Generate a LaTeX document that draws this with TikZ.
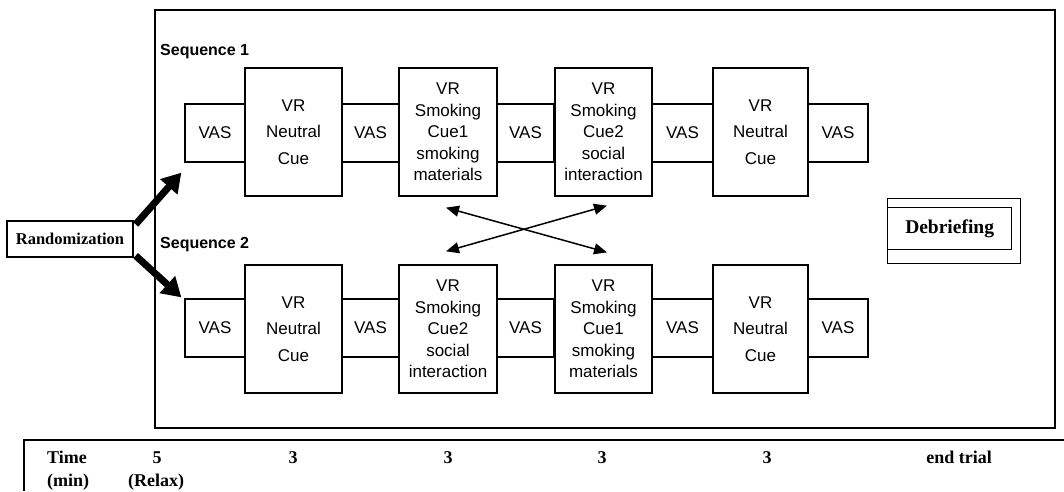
\documentclass[tikz,border=0pt]{standalone}
\usepackage{fontspec}
\setmainfont{Liberation Serif}
\setsansfont{Liberation Sans}
\usetikzlibrary{arrows.meta,calc}

\begin{document}
\begin{tikzpicture}[x=1pt,y=1pt,
  box/.style={draw,line width=1.3pt,inner sep=0pt,align=center,
              font=\sffamily\fontsize{17}{21.5}\selectfont},
  vas/.style={box,minimum height=58pt},
  vr/.style={box,minimum height=128pt,minimum width=97pt},
  neutral/.style={vr,font=\sffamily\fontsize{17}{26.5}\selectfont},
  seqlabel/.style={anchor=west,inner sep=0pt,font=\sffamily\bfseries\fontsize{16}{19}\selectfont},
  bigarrow/.style={line width=7pt,-{Triangle[length=19pt,width=22pt]}},
  swaparrow/.style={line width=1.5pt,{Triangle[length=13pt,width=11pt]}-{Triangle[length=13pt,width=11pt]}},
  tabtext/.style={inner sep=0pt,anchor=base,font=\bfseries\fontsize{18}{21}\selectfont},
]
\useasboundingbox (0,0) rectangle (1064,491);

% outer frame holding both sequences
\node[draw,line width=2pt,minimum width=900pt,minimum height=418pt,inner sep=0pt] (frame) at (605,272) {};

% sequence 1
\node[seqlabel] (seq1) at (160,439) {Sequence 1};
\node[vas,minimum width=60pt] (a1) at (215,358) {VAS};
\node[neutral] (a2) at (293.5,359) {VR\\Neutral\\Cue};
\node[vas,minimum width=57pt] (a3) at (370.5,358) {VAS};
\node[vr,minimum width=98pt] (a4) at (448,359) {VR\\Smoking\\Cue1\\smoking\\materials};
\node[vas,minimum width=57pt] (a5) at (525.5,358) {VAS};
\node[vr] (a6) at (603.5,359) {VR\\Smoking\\Cue2\\social\\interaction};
\node[vas,minimum width=61pt] (a7) at (682.5,358) {VAS};
\node[neutral,minimum width=95pt] (a8) at (760.5,359) {VR\\Neutral\\Cue};
\node[vas,minimum width=60pt] (a9) at (838,358) {VAS};

% sequence 2
\node[seqlabel] (seq2) at (160,246) {Sequence 2};
\node[vas,minimum width=60pt] (b1) at (215,163) {VAS};
\node[neutral] (b2) at (293.5,162) {VR\\Neutral\\Cue};
\node[vas,minimum width=57pt] (b3) at (370.5,163) {VAS};
\node[vr,minimum width=98pt] (b4) at (448,162) {VR\\Smoking\\Cue2\\social\\interaction};
\node[vas,minimum width=57pt] (b5) at (525.5,163) {VAS};
\node[vr] (b6) at (603.5,162) {VR\\Smoking\\Cue1\\smoking\\materials};
\node[vas,minimum width=61pt] (b7) at (682.5,163) {VAS};
\node[neutral,minimum width=95pt] (b8) at (760.5,162) {VR\\Neutral\\Cue};
\node[vas,minimum width=60pt] (b9) at (838,163) {VAS};

% randomization
\node[draw,line width=1.3pt,minimum width=126pt,minimum height=36pt,inner sep=0pt,
      font=\bfseries\fontsize{16.5}{19}\selectfont] (rand) at (70,252) {Randomization};
\coordinate (up0) at ($(rand.north east)+(2,-4)$);
\coordinate (up1) at ($(a1.south west)+(-3,-10)$);
\coordinate (dn0) at ($(rand.south east)+(2,2)$);
\coordinate (dn1) at ($(b1.north west)+(-3,1)$);
\draw[bigarrow] (up0) -- (up1);
\draw[bigarrow] (dn0) -- (dn1);

% the two cue orders swap between sequences
\coordinate (tl) at ($(a4.south)+(-2,-11)$);
\coordinate (tr) at ($(a6.south)+(3.5,-9)$);
\coordinate (bl) at ($(b4.north)+(-2,13)$);
\coordinate (br) at ($(b6.north)+(3.5,12)$);
\draw[swaparrow] (tl) -- (br);
\draw[swaparrow] (bl) -- (tr);

% debriefing
\node[draw,line width=1.3pt,minimum width=133pt,minimum height=65pt,inner sep=0pt,anchor=north west] (debout) at (887,293) {};
\node[draw,line width=1.3pt,minimum width=124pt,minimum height=42pt,inner sep=0pt,anchor=north west,
      font=\bfseries\fontsize{19.5}{22}\selectfont] (deb) at (887,284) {Debriefing};

% time line
\coordinate (tabR) at (1064,51);
\coordinate (tabC) at (24,51);
\coordinate (tabB) at (24,0);
\draw[line width=2pt] (tabR) -- (tabC) -- (tabB);
\node[tabtext,anchor=base west] (tm) at (47,28) {Time};
\node[tabtext,anchor=base west] (mn) at (47,5) {(min)};
\node[tabtext] (t1) at (157,28) {5};
\node[tabtext,anchor=base west] (rx) at (128,5) {(Relax)};
\node[tabtext] (t2) at (293,28) {3};
\node[tabtext] (t3) at (448,28) {3};
\node[tabtext] (t4) at (602,28) {3};
\node[tabtext] (t5) at (767,28) {3};
\node[tabtext] (t6) at (959,28) {end trial};
\end{tikzpicture}
\end{document}
